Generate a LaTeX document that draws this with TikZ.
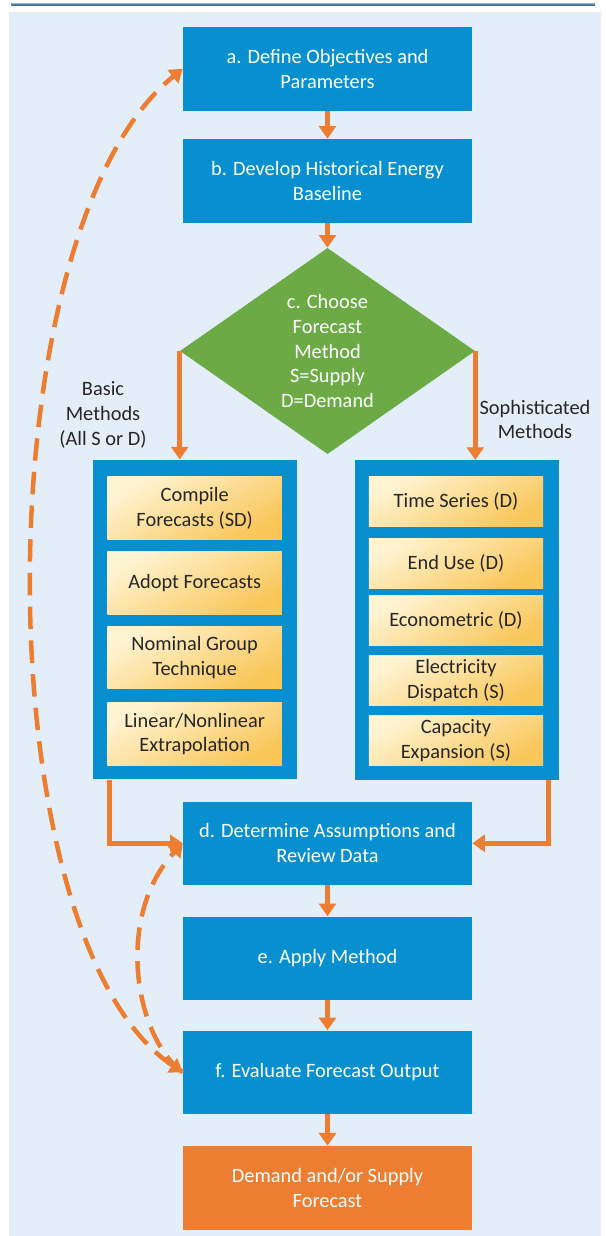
\documentclass[tikz,border=0pt]{standalone}
\usepackage{fontspec}
\setmainfont{Carlito}
\usetikzlibrary{arrows.meta,shapes.geometric}
\definecolor{boxblue}{RGB}{8,143,208}
\definecolor{diagreen}{RGB}{108,170,70}
\definecolor{arrorange}{RGB}{237,125,49}
\definecolor{bgblue}{RGB}{228,238,248}
\definecolor{ylight}{RGB}{255,244,210}
\definecolor{ydark}{RGB}{249,198,88}
\definecolor{textdark}{RGB}{38,38,38}
\definecolor{rulecol}{RGB}{64,125,175}

\begin{document}
\begin{tikzpicture}[x=0.25mm,y=-0.25mm,>={Triangle[length=9pt,width=12pt]},line join=miter,
  every node/.style={font=\fontsize{14.5}{17.6}\selectfont,align=center,inner sep=0pt},
  stepbox/.style={fill=boxblue,text=white,minimum width=72.25mm,minimum height=20.9mm},
  groupbox/.style={fill=boxblue,minimum width=51mm,minimum height=79.9mm},
  methodbox/.style={top color=ylight,bottom color=ydark,shading angle=30,text=textdark,minimum width=43.6mm},
  flow/.style={->,draw=arrorange,line width=3.4pt},
  feedback/.style={draw=arrorange,line width=3.2pt,dash pattern=on 16pt off 8pt}]
\useasboundingbox (0,0) rectangle (606,1236);
\fill[bgblue] (9,12) rectangle (601,1236);
\draw[gray!60,line width=0.6pt] (11,3.2) -- (595,3.2);
\draw[rulecol,line width=1.1pt] (11,5.2) -- (595,5.2);
\node[stepbox] (a) at (327.5,68.8) {a. Define Objectives and\\Parameters};
\node[stepbox] (b) at (327.5,180.8) {b. Develop Historical Energy\\Baseline};
\node[diamond,fill=diagreen,text=white,minimum width=73.75mm,minimum height=49.5mm] (c) at (327.5,351) {c. Choose\\Forecast\\Method\\S=Supply\\D=Demand};
\node[text=textdark] (basic) at (103,415) {Basic\\Methods\\(All S or D)};
\node[text=textdark] (soph) at (535,419.5) {Sophisticated\\Methods};
\node[groupbox] (basicbox) at (195.3,619.5) {};
\node[groupbox] (sophbox) at (457,620) {};
\node[methodbox,minimum height=15.6mm] (compile) at (194.7,508) {Compile\\Forecasts (SD)};
\node[methodbox,minimum height=15.6mm] (adopt) at (194.7,583) {Adopt Forecasts};
\node[methodbox,minimum height=15.6mm] (nominal) at (194.7,657.5) {Nominal Group\\Technique};
\node[methodbox,minimum height=15.6mm] (linear) at (194.7,734) {Linear/Nonlinear\\Extrapolation};
\node[methodbox,minimum height=12.5mm] (timeser) at (456,501.7) {Time Series (D)};
\node[methodbox,minimum height=12.5mm] (enduse) at (456,563.3) {End Use (D)};
\node[methodbox,minimum height=12.5mm] (econ) at (456,620.8) {Econometric (D)};
\node[methodbox,minimum height=12.5mm] (dispatch) at (456,680.8) {Electricity\\Dispatch (S)};
\node[methodbox,minimum height=12.5mm] (capacity) at (456,740.8) {Capacity\\Expansion (S)};
\node[stepbox] (d) at (327.5,843.3) {d. Determine Assumptions and\\Review Data};
\node[stepbox] (e) at (327.5,958.3) {e. Apply Method};
\node[stepbox] (f) at (327.5,1072.3) {f. Evaluate Forecast Output};
\node[stepbox,fill=arrorange] (out) at (327.5,1187.7) {Demand and/or Supply\\Forecast};
\coordinate (lturn) at (109.5,843.3);
\coordinate (rturn) at (548.4,843.3);
\draw[flow] (a) -- (b);
\draw[flow] (b) -- (c);
\draw[flow] (c.west) -- (c.west |- basicbox.north);
\draw[flow] (c.east) -- (c.east |- sophbox.north);
\draw[flow] (lturn |- basicbox.south) -- (lturn) -- (d.west);
\draw[flow] (rturn |- sophbox.south) -- (rturn) -- (d.east);
\draw[flow] (d) -- (e);
\draw[flow] (e) -- (f);
\draw[flow] (f) -- (out);
\draw[feedback,<->] (f.west) .. controls (-18,938) and (-18,231) .. (a.west);
\draw[feedback,->] (f.west) .. controls (134,1036) and (115,915) .. (d.west);
\end{tikzpicture}
\end{document}
